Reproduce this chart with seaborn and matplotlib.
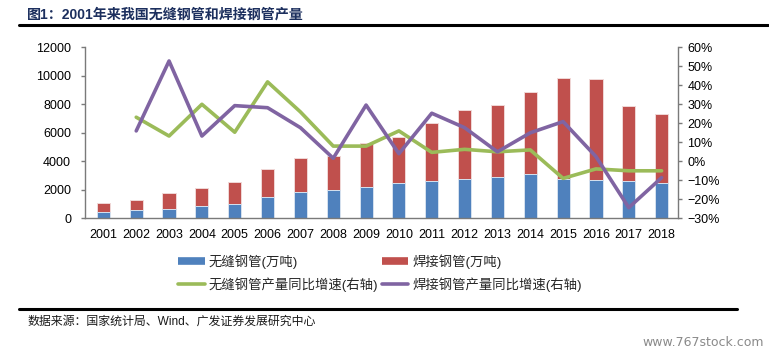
import numpy as np
import pandas as pd
import matplotlib
matplotlib.use("Agg")
import matplotlib.pyplot as plt
from matplotlib.lines import Line2D
from matplotlib.ticker import PercentFormatter
import seaborn as sns

years = [str(y) for y in range(2001, 2019)]
seamless = [460, 580, 640, 880, 1000, 1470, 1830, 1990, 2180, 2500,
            2600, 2780, 2920, 3090, 2780, 2710, 2600, 2460]
total = [1050, 1280, 1750, 2100, 2570, 3460, 4210, 4390, 5260, 5730,
         6670, 7580, 7950, 8880, 9820, 9750, 7900, 7320]
welded = [t - s for t, s in zip(total, seamless)]
seamless_growth = [np.nan, 23.2, 13.3, 30.0, 15.3, 41.8, 26.0, 8.0, 8.0, 16.0,
                   4.7, 6.3, 5.0, 6.0, -9.0, -4.0, -5.0, -5.0]
welded_growth = [np.nan, 16.0, 52.8, 13.3, 29.3, 28.2, 17.7, 1.6, 29.6, 4.0,
                 25.3, 17.7, 5.0, 15.0, 20.9, 2.5, -24.4, -8.6]

title = "图1：2001年来我国无缝钢管和焊接钢管产量"
source = "数据来源：国家统计局、Wind、广发证券发展研究中心"
watermark = "www.767stock.com"
labels = ["无缝钢管(万吨)", "无缝钢管产量同比增速(右轴)", "焊接钢管(万吨)", "焊接钢管产量同比增速(右轴)"]

C_BLUE, C_RED, C_GREEN, C_PURPLE = "#4F81BD", "#C0504D", "#9BBB59", "#8064A2"

sns.set_theme(style="white")
plt.rcParams["font.family"] = ["Liberation Sans", "Noto Sans CJK SC"]

df = pd.DataFrame({"year": years, "seamless": seamless, "welded": welded,
                   "total": [s + w for s, w in zip(seamless, welded)],
                   "sg": seamless_growth, "wg": welded_growth})
df["pos"] = np.arange(len(df))

fig = plt.figure(figsize=(7.69, 3.54), dpi=100)
ax = fig.add_axes([85 / 769, 1 - 218.3 / 354, (677.7 - 85) / 769, (218.3 - 47.3) / 354])

sns.barplot(data=df, x="year", y="total", color=C_RED, width=0.4, saturation=1,
            edgecolor="#f0d8d7", linewidth=0.7, ax=ax)
sns.barplot(data=df, x="year", y="seamless", color=C_BLUE, width=0.4, saturation=1,
            edgecolor="#d6e2f0", linewidth=0.7, ax=ax)
ax.set_xlim(-0.56, 17.49)
ax.set_ylim(0, 12000)
ax.set_yticks(range(0, 12001, 2000))
ax.set_xlabel("")
ax.set_ylabel("")

ax2 = ax.twinx()
sns.lineplot(data=df, x="pos", y="sg", color=C_GREEN, linewidth=2.6, ax=ax2)
sns.lineplot(data=df, x="pos", y="wg", color=C_PURPLE, linewidth=2.6, ax=ax2)
ax2.set_ylim(-30, 60)
ax2.set_yticks(range(-30, 61, 10))
ax2.yaxis.set_major_formatter(PercentFormatter(decimals=0))
ax2.set_xlim(-0.56, 17.49)
ax2.set_xlabel("")
ax2.set_ylabel("")

spc = "#7a7a7a"
for a in (ax, ax2):
    a.spines["top"].set_visible(False)
    for s in ("left", "right", "bottom"):
        a.spines[s].set_color(spc)
        a.spines[s].set_linewidth(1.0)
ax.spines["right"].set_visible(False)
ax2.spines["left"].set_visible(False)
ax2.spines["bottom"].set_visible(False)

ax.tick_params(axis="y", left=True, length=3, width=1, color=spc, pad=7,
               labelsize=9, labelcolor="black")
ax.tick_params(axis="x", bottom=False, length=0, pad=8, labelsize=9, labelcolor="black")
ax2.tick_params(axis="y", right=True, length=3, width=1, color=spc, pad=4,
                labelsize=9, labelcolor="black")

handles = [Line2D([], [], color=C_BLUE, lw=5.5, solid_capstyle="butt"),
           Line2D([], [], color=C_GREEN, lw=2.6),
           Line2D([], [], color=C_RED, lw=5.5, solid_capstyle="butt"),
           Line2D([], [], color=C_PURPLE, lw=2.6)]
fig.legend(handles, labels, ncol=2, loc="center left",
           bbox_to_anchor=(178 / 769, 1 - 273 / 354), frameon=False,
           fontsize=9.6, handlelength=2.0, handletextpad=0.3,
           columnspacing=0.25, labelspacing=0.62, borderpad=0, borderaxespad=0)

fig.text(27 / 769, 1 - 15 / 354, title, fontsize=10.1, fontweight="bold",
         color="#1c2f5e", va="center", ha="left")
fig.add_artist(Line2D([19 / 769, 768 / 769], [1 - 25 / 354] * 2, color="black", lw=2.2))
fig.add_artist(Line2D([19 / 769, 737 / 769], [1 - 309 / 354] * 2, color="black", lw=2.2))
fig.text(27 / 769, 1 - 322 / 354, source, fontsize=8.6, color="#1a1a1a",
         va="center", ha="left")
fig.text(764 / 769, 1 - 343 / 354, watermark, fontsize=9, color="#8a8a8a",
         va="center", ha="right", family=["DejaVu Sans"])

fig.savefig("out.png", dpi=100)
